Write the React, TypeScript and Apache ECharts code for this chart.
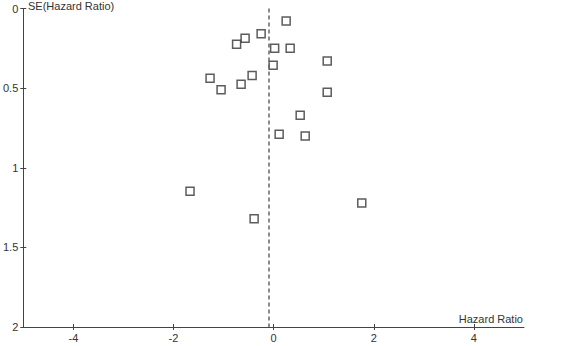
import React, { useEffect, useRef } from "react";
import * as echarts from "echarts";

const hazardRatio = [0.25, -0.25, -0.57, -0.74, 0.02, 0.33, 1.07, -0.01, -0.43, -1.27, -0.65, -1.05, 1.07, 0.53, 0.11, 0.63, -1.67, 1.76, -0.39];
const seHazard = [0.078, 0.158, 0.187, 0.225, 0.25, 0.25, 0.33, 0.357, 0.42, 0.438, 0.476, 0.51, 0.526, 0.67, 0.79, 0.80, 1.148, 1.221, 1.32];
const xTicks = [-4, -2, 0, 2, 4];
const yTicks = [0, 0.5, 1, 1.5, 2];
const pooledEffect = -0.1;

export default function App() {
  const ref = useRef<HTMLDivElement>(null);
  useEffect(() => {
    if (!ref.current) return;
    const chart = echarts.init(ref.current, null, { renderer: "svg" });
    const font = "Liberation Sans, Arial, sans-serif";
    const axisColor = "#444";
    const xBase = {
      type: "value",
      min: -5,
      max: 5,
      position: "bottom",
      splitLine: { show: false },
    };
    const yBase = {
      type: "value",
      min: 0,
      max: 2,
      inverse: true,
      position: "left",
      splitLine: { show: false },
    };
    chart.setOption({
      animation: false,
      backgroundColor: "#fff",
      grid: { left: 23, right: 57, top: 8.5, bottom: 19, containLabel: false },
      xAxis: [
        {
          ...xBase,
          axisLine: { show: true, onZero: false, lineStyle: { color: axisColor, width: 1 } },
          axisTick: { show: true, length: 3, customValues: xTicks, lineStyle: { color: axisColor } },
          axisLabel: {
            customValues: xTicks,
            margin: 5,
            color: "#333",
            fontSize: 11,
            fontFamily: font,
          },
        },
        {
          ...xBase,
          axisLine: { show: false, onZero: false },
          axisTick: { show: true, inside: true, length: 3, customValues: xTicks, lineStyle: { color: axisColor } },
          axisLabel: { show: false },
        },
      ],
      yAxis: [
        {
          ...yBase,
          axisLine: { show: true, onZero: false, lineStyle: { color: axisColor, width: 1 } },
          axisTick: { show: true, length: 3, customValues: yTicks, lineStyle: { color: axisColor } },
          axisLabel: {
            customValues: yTicks,
            margin: 5,
            color: "#333",
            fontSize: 11,
            fontFamily: font,
          },
        },
        {
          ...yBase,
          axisLine: { show: false, onZero: false },
          axisTick: { show: true, inside: true, length: 3, customValues: yTicks, lineStyle: { color: axisColor } },
          axisLabel: { show: false },
        },
      ],
      graphic: [
        {
          type: "text",
          left: 28,
          top: 0,
          style: { text: "SE(Hazard Ratio)", fontSize: 11, fontFamily: font, fill: "#333" },
        },
        {
          type: "text",
          x: 523,
          y: 324,
          style: {
            text: "Hazard Ratio",
            fontSize: 11,
            fontFamily: font,
            fill: "#333",
            textAlign: "right",
            textVerticalAlign: "bottom",
          },
        },
      ],
      series: [
        {
          type: "scatter",
          xAxisIndex: 0,
          yAxisIndex: 0,
          symbol: "rect",
          symbolSize: 8,
          itemStyle: { color: "#fff", borderColor: "#333", borderWidth: 1.5 },
          data: hazardRatio.map((x, i) => [x, seHazard[i]]),
          markLine: {
            silent: true,
            symbol: "none",
            label: { show: false },
            lineStyle: { color: "#666", type: [4, 3], width: 1.5 },
            data: [{ xAxis: pooledEffect }],
          },
          z: 3,
        },
      ],
    });
    return () => chart.dispose();
  }, []);
  return <div ref={ref} style={{ position: "fixed", left: 0, top: 0, width: 581, height: 346 }} />;
}
